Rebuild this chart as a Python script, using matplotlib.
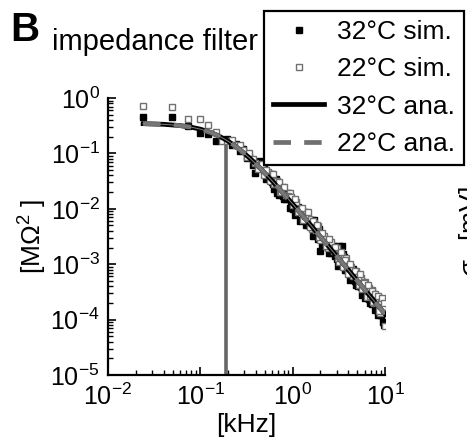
import matplotlib
matplotlib.use("Agg")
import matplotlib.pyplot as plt
from matplotlib.lines import Line2D
from matplotlib.ticker import LogLocator, NullFormatter

plt.rcParams["font.family"] = ["Liberation Sans", "DejaVu Sans"]
plt.rcParams["mathtext.fontset"] = "custom"
plt.rcParams["mathtext.rm"] = "Liberation Sans"
plt.rcParams["mathtext.it"] = "Liberation Sans:italic"

# frequencies of the simulated spectra [kHz]
sim_f = [0.024, 0.049, 0.073, 0.098, 0.122, 0.146, 0.171, 0.195, 0.22, 0.244,
         0.27, 0.29, 0.32, 0.34, 0.37, 0.39, 0.42, 0.44, 0.46, 0.49,
         0.54, 0.59, 0.63, 0.68, 0.73, 0.78, 0.85, 0.93, 1.0, 1.1,
         1.2, 1.3, 1.4, 1.5, 1.6, 1.7, 1.8, 1.9, 2.0, 2.2,
         2.4, 2.6, 2.8, 3.0, 3.2, 3.4, 3.6, 3.8, 4.0, 4.3,
         4.6, 4.9, 5.2, 5.5, 5.8, 6.1, 6.4, 6.7, 7.0, 7.3,
         7.6, 7.9, 8.2, 8.5, 8.8, 9.1, 9.4, 9.7, 10.0]

# 32 C simulation [MOhm^2]
sim_32 = [0.46, 0.45, 0.31, 0.23, 0.22, 0.17, 0.175, 0.18, 0.14, 0.145,
          0.11, 0.12, 0.082, 0.087, 0.062, 0.044, 0.071, 0.072, 0.069, 0.066,
          0.042, 0.031, 0.023, 0.019, 0.024, 0.0167, 0.015, 0.0105, 0.0098, 0.0106,
          0.0060, 0.0084, 0.0051, 0.0050, 0.0063, 0.0063, 0.0046, 0.0028, 0.0017, 0.00246,
          0.0024, 0.00158, 0.0021, 0.00126, 0.0021, 0.0021, 0.00136, 0.00079, 0.00095, 0.00058,
          0.00069, 0.00042, 0.00051, 0.00038, 0.00047, 0.00025, 0.00032, 0.00024, 0.00031, 0.00019,
          0.00022, 0.00018, 0.00022, 0.00012, 0.00016, 0.00012, 0.000136, 0.00008, 0.000082]

# 22 C simulation [MOhm^2]
sim_22 = [0.72, 0.69, 0.42, 0.42, 0.33, 0.24, 0.17, 0.17, 0.172, 0.139,
          0.139, 0.116, 0.087, 0.10, 0.080, 0.067, 0.053, 0.063, 0.064, 0.041,
          0.046, 0.043, 0.028, 0.032, 0.020, 0.025, 0.018, 0.019, 0.0116, 0.0131,
          0.0094, 0.0062, 0.0085, 0.0066, 0.0044, 0.0056, 0.0041, 0.0049, 0.0027, 0.0032,
          0.00196, 0.0025, 0.00176, 0.00196, 0.0011, 0.00142, 0.00112, 0.00127, 0.00067, 0.00089,
          0.00066, 0.00076, 0.00042, 0.00056, 0.00041, 0.00047, 0.00026, 0.00037, 0.00028, 0.00034,
          0.00020, 0.00027, 0.00021, 0.00026, 0.00013, 0.00024, 0.00017, 0.00024, 0.000076]

# extra (denser) simulated points in the high-frequency part [kHz]
sim_f2 = [0.51, 0.565, 0.61, 0.655, 0.705, 0.755, 0.815, 0.89, 0.965,
          1.05, 1.15, 1.25, 1.35, 1.45, 1.55, 1.65, 1.75, 1.85, 1.95,
          2.1, 2.3, 2.5, 2.7, 2.9, 3.1, 3.3, 3.5, 3.7, 3.9,
          4.15, 4.45, 4.75, 5.05, 5.35, 5.65, 5.95, 6.25, 6.55, 6.85,
          7.15, 7.45, 7.75, 8.05, 8.35, 8.65, 8.95, 9.25, 9.55, 9.85]
sim_32b = [0.034, 0.043, 0.028, 0.035, 0.0178, 0.0229, 0.0153, 0.0191, 0.0118,
           0.0078, 0.0107, 0.0063, 0.0088, 0.0050, 0.0052, 0.0032, 0.0049, 0.0033, 0.0044,
           0.0021, 0.0026, 0.0016, 0.00215, 0.00143, 0.00092, 0.00139, 0.00155, 0.00078, 0.00091,
           0.00051, 0.00083, 0.00050, 0.00040, 0.00051, 0.00028, 0.00036, 0.00040, 0.00025, 0.00020,
           0.00030, 0.00021, 0.00015, 0.00021, 0.000145, 0.00022, 0.000119, 0.000133, 0.00009, 0.000143]
sim_22b = [0.0512, 0.032, 0.0419, 0.0286, 0.0308, 0.0198, 0.0252, 0.0168, 0.0164,
           0.0150, 0.0088, 0.0103, 0.0075, 0.0086, 0.0047, 0.0060, 0.0043, 0.0051, 0.0031,
           0.0037, 0.00213, 0.0028, 0.00198, 0.00203, 0.00131, 0.00168, 0.00088, 0.0012, 0.00091,
           0.00102, 0.00061, 0.00075, 0.00059, 0.00066, 0.00036, 0.00046, 0.00036, 0.00043, 0.00027,
           0.00033, 0.00021, 0.00029, 0.00022, 0.00027, 0.000144, 0.000205, 0.00025, 0.000167, 0.0002]

# analytical curves
ana_f = [0.024, 0.04, 0.06, 0.08, 0.1, 0.13, 0.16, 0.19, 0.23, 0.28, 0.35,
         0.45, 0.6, 0.8, 1.0, 1.5, 2.0, 3.0, 5.0, 7.0, 10.0]
ana_32 = [0.344, 0.335, 0.318, 0.297, 0.274, 0.238, 0.205, 0.175, 0.142, 0.110, 0.0797,
          0.0530, 0.0319, 0.0187, 0.0122, 0.00553, 0.00313, 0.00140, 0.000505, 0.000258, 0.000126]
ana_22 = [0.344, 0.335, 0.318, 0.297, 0.274, 0.238, 0.205, 0.175, 0.142, 0.110, 0.0797,
          0.0530, 0.0319, 0.0187, 0.0122, 0.00553, 0.00313, 0.00140, 0.000505, 0.000258, 0.000126]

# cutoff frequency marker
cutoff_f = 0.19
cutoff_z = 0.17

fig = plt.figure(figsize=(4.67, 4.44), dpi=100)
ax = fig.add_axes([108 / 467, 69 / 444, 277 / 467, 277 / 444])

ax.plot([cutoff_f, cutoff_f], [1e-5, cutoff_z], color="#666666", lw=2.6, zorder=2)
black_sq = dict(ls="none", marker="s", ms=4.6, mfc="black", mec="black", zorder=3)
open_sq = dict(ls="none", marker="s", ms=4.6, mfc="white", mec="#707070", mew=1.0, zorder=3)
ax.plot(sim_f, sim_32, **black_sq)
ax.plot(sim_f2, sim_32b, **black_sq)
ax.plot(sim_f, sim_22, **open_sq)
ax.plot(sim_f2, sim_22b, **open_sq)
ax.plot(ana_f, ana_32, color="black", lw=3.4, zorder=4)
ax.plot(ana_f, ana_22, color="#707070", lw=3.4, dashes=(3.7, 2.8), zorder=5)
ax.plot(ana_f, ana_22, color="#808080", lw=0.7, zorder=6)

ax.set_xscale("log")
ax.set_yscale("log")
ax.set_xlim(1e-2, 1e1)
ax.set_ylim(1e-5, 1e0)
ax.xaxis.set_major_locator(LogLocator(base=10, numticks=10))
ax.xaxis.set_minor_locator(LogLocator(base=10, subs=range(2, 10), numticks=20))
ax.xaxis.set_minor_formatter(NullFormatter())
ax.yaxis.set_major_locator(LogLocator(base=10, numticks=10))
ax.yaxis.set_minor_locator(LogLocator(base=10, subs=range(2, 10), numticks=20))
ax.yaxis.set_minor_formatter(NullFormatter())

for s in ["top", "right"]:
    ax.spines[s].set_visible(False)
for s in ["left", "bottom"]:
    ax.spines[s].set_linewidth(1.6)
ax.tick_params(which="major", direction="in", length=6, width=1.2, labelsize=18, pad=6)
ax.tick_params(which="minor", direction="in", length=3.5, width=1.0)

ax.set_xlabel("[kHz]", fontsize=19, labelpad=2)
ax.set_ylabel("[M\u03a9$^2$ ]", fontsize=19, labelpad=1)

handles = [
    Line2D([], [], ls="none", marker="s", ms=4.6, mfc="black", mec="black"),
    Line2D([], [], ls="none", marker="s", ms=4.6, mfc="white", mec="#707070", mew=1.0),
    Line2D([], [], color="black", lw=3.4),
    Line2D([], [], color="#707070", lw=3.4, dashes=(3.7, 2.8)),
]
labels = ["32\u00b0C sim.", "22\u00b0C sim.", "32\u00b0C ana.", "22\u00b0C ana."]
leg = fig.legend(handles, labels, loc="upper right", bbox_to_anchor=(464 / 467, 1 - 11 / 444),
                 fontsize=19, frameon=True, fancybox=False, framealpha=1,
                 edgecolor="black", borderpad=0.35, labelspacing=0.5,
                 handlelength=1.9, handletextpad=0.5, borderaxespad=0)
leg.get_frame().set_linewidth(1.6)

fig.text(10 / 467, 1 - 11 / 444, "B", fontsize=29, fontweight="bold", va="top", ha="left")
fig.text(52 / 467, 1 - 50 / 444, "impedance filter", fontsize=21, va="baseline", ha="left")
fig.text(471 / 467, 1 - 232 / 444, "$\\sigma_V$ [mV]", fontsize=19, rotation=90,
         va="center", ha="center")

fig.savefig("out.png", dpi=100)
